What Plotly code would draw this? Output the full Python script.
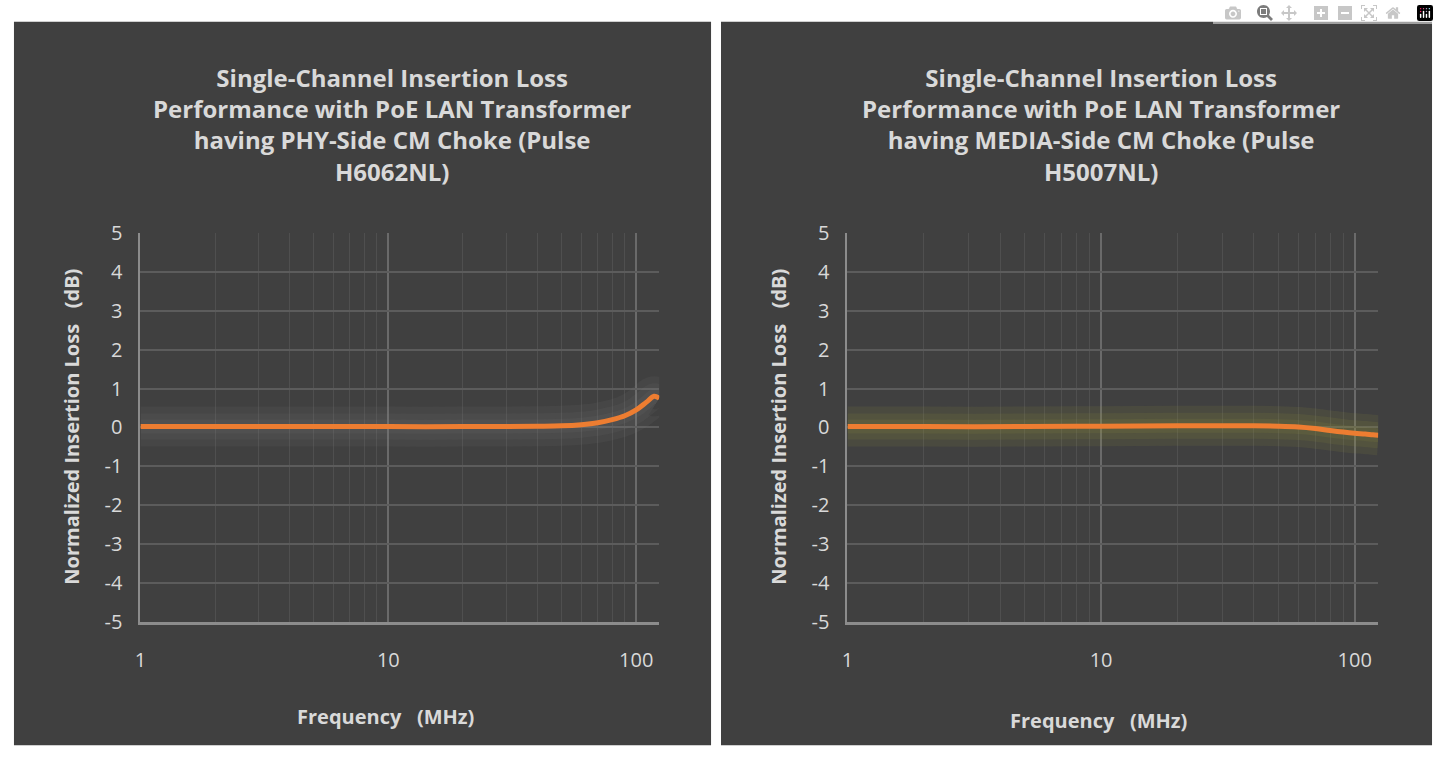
import plotly.graph_objects as go

# frequency (MHz) and normalized insertion loss (dB)
freq = [1, 2, 5, 10, 20, 40, 50, 60, 70, 80, 90, 100, 110, 118, 124]
loss_phy = [0.02, 0.02, 0.02, 0.02, 0.02, 0.03, 0.04, 0.07, 0.12, 0.2, 0.3, 0.45, 0.65, 0.8, 0.75]
loss_media = [0.02, 0.02, 0.02, 0.03, 0.04, 0.04, 0.03, 0.01, -0.03, -0.08, -0.12, -0.15, -0.17, -0.19, -0.2]

titles = [
    "Single-Channel Insertion Loss<br>Performance with PoE LAN Transformer<br>having PHY-Side CM Choke (Pulse<br>H6062NL)",
    "Single-Channel Insertion Loss<br>Performance with PoE LAN Transformer<br>having MEDIA-Side CM Choke (Pulse<br>H5007NL)",
]
y_ticks = [5, 4, 3, 2, 1, 0, -1, -2, -3, -4, -5]
y_labels = [str(v) for v in y_ticks]

W, H = 1439, 766
TXT = "#d9d9d9"
FONT = "Open Sans"

fig = go.Figure()

panels = [
    dict(x0=8, x1=708, px0=135, px1=656, data=loss_phy, glow="rgba(130,130,130,0.10)", title_x=388, xt_y=728),
    dict(x0=718, x1=1432, px0=845, px1=1378, data=loss_media, glow="rgba(150,150,60,0.13)", title_x=1100, xt_y=732),
]

for i, p in enumerate(panels):
    sfx = "" if i == 0 else "2"
    # panel background
    fig.add_shape(type="rect", xref="paper", yref="paper", layer="below",
                  x0=p["x0"] / W, x1=p["x1"] / W, y0=1 - 758 / H, y1=1 - 8 / H,
                  fillcolor="#404040", line_width=0)
    # soft glow around the line
    for w in [40, 26, 14]:
        fig.add_trace(go.Scatter(x=freq, y=p["data"], mode="lines", line=dict(color=p["glow"], width=w, shape="spline"),
                                 xaxis="x" + sfx, yaxis="y" + sfx, hoverinfo="skip", showlegend=False))
    fig.add_trace(go.Scatter(x=freq, y=p["data"], mode="lines", line=dict(color="#ed7d31", width=5, shape="spline"),
                             xaxis="x" + sfx, yaxis="y" + sfx, showlegend=False))
    fig.update_layout(**{
        "xaxis" + sfx: dict(type="log", range=[0, 2.093], domain=[p["px0"] / W, p["px1"] / W], anchor="y" + sfx,
                            tickvals=[1, 10, 100], ticktext=["1", "10", "100"], ticks="", ticklabelstandoff=18,
                            showgrid=True, gridcolor="#6a6a6a", gridwidth=1.5,
                            minor=dict(showgrid=True, gridcolor="#4f4f4f", gridwidth=1, dtick="D1"),
                            showline=True, linecolor="#8c8c8c", linewidth=3, zeroline=False,
                            tickfont=dict(size=20, color=TXT, family=FONT)),
        "yaxis" + sfx: dict(range=[-5, 5], domain=[1 - 630 / H, 1 - 227 / H], anchor="x" + sfx,
                            tickvals=y_ticks, ticktext=y_labels, ticks="", ticklabelstandoff=12,
                            showgrid=True, gridcolor="#5c5c5c", gridwidth=1.5, zeroline=False,
                            showline=True, linecolor="#8c8c8c", linewidth=2,
                            tickfont=dict(size=20, color=TXT, family=FONT)),
    })
    fig.add_annotation(text="<b>" + titles[i] + "</b>", xref="paper", yref="paper",
                       x=p["title_x"] / W, y=1 - 115 / H, xanchor="center", yanchor="middle",
                       showarrow=False, align="center",
                       font=dict(size=24, color=TXT, family=FONT))
    fig.add_annotation(text="<b>Frequency   (MHz)</b>", xref="paper", yref="paper",
                       x=(p["px0"] + p["px1"]) / 2 / W - 0.01, y=1 - p["xt_y"] / H,
                       xanchor="center", yanchor="middle", showarrow=False,
                       font=dict(size=20, color=TXT, family=FONT))
    fig.add_annotation(text="<b>Normalized Insertion Loss   (dB)</b>", xref="paper", yref="paper",
                       x=(p["x0"] + 58) / W, y=1 - 428 / H, xanchor="center", yanchor="middle",
                       showarrow=False, textangle=-90,
                       font=dict(size=20, color=TXT, family=FONT))

fig.update_layout(width=W, height=H, margin=dict(l=0, r=0, t=0, b=0),
                  paper_bgcolor="white", plot_bgcolor="rgba(0,0,0,0)")

fig.write_html("out.html", post_script="document.body.style.margin='0';document.body.style.overflow='hidden';")
